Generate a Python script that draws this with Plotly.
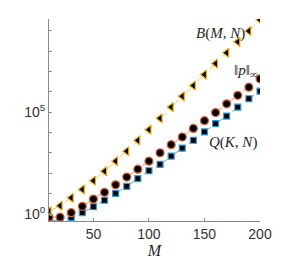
import plotly.graph_objects as go

M = [10, 20, 30, 40, 50, 60, 70, 80, 90, 100, 110, 120, 130, 140, 150, 160, 170, 180, 190, 200]
log_B = [0.13, 0.40, 0.79, 1.20, 1.63, 2.10, 2.59, 3.08, 3.61, 4.14, 4.70, 5.25, 5.78, 6.31, 6.85, 7.39, 7.92, 8.46, 8.99, 9.54]
log_P = [-0.16, -0.16, 0.06, 0.37, 0.73, 1.06, 1.43, 1.81, 2.20, 2.59, 3.00, 3.40, 3.78, 4.20, 4.58, 4.98, 5.41, 5.83, 6.23, 6.64]
log_Q = [-0.32, -0.32, -0.18, 0.06, 0.35, 0.67, 1.01, 1.35, 1.73, 2.12, 2.43, 2.84, 3.23, 3.62, 4.03, 4.44, 4.81, 5.25, 5.66, 6.03]

B = [10 ** v for v in log_B]
P = [10 ** v for v in log_P]
Q = [10 ** v for v in log_Q]

x_ticks = [50, 100, 150, 200]
y_major = [1, 1e5]
y_major_text = ["10<sup>0</sup>", "10<sup>5</sup>"]
y_minor = [10 ** k for k in range(1, 10) if k != 5]

fig = go.Figure()
fig.add_trace(go.Scatter(
    x=M, y=Q, mode="lines+markers",
    line=dict(color="rgba(0,114,189,0.65)", width=1, dash="dash"),
    marker=dict(symbol="square", size=6, color="black",
                line=dict(color="#3a9ad9", width=1.2)),
))
fig.add_trace(go.Scatter(
    x=M, y=P, mode="lines+markers",
    line=dict(color="rgba(217,83,25,0.6)", width=1, dash="dash"),
    marker=dict(symbol="circle", size=8, color="black",
                line=dict(color="#d9643a", width=1.2)),
))
fig.add_trace(go.Scatter(
    x=M, y=B, mode="lines+markers",
    line=dict(color="rgba(237,177,32,0.75)", width=1, dash="dash"),
    marker=dict(symbol="triangle-left", size=8, color="black",
                line=dict(color="#EDB120", width=1.2)),
))

ann_font = dict(family="Liberation Serif, DejaVu Serif, serif", size=15, color="#262626")
fig.add_annotation(x=164, y=8.85, xref="x", yref="y",
                   text="<i>B</i>(<i>M</i>, <i>N</i>)", showarrow=False, font=ann_font)
fig.add_annotation(x=175.0, y=7.02, xref="x", yref="y",
                   text="‖<i>p</i>‖<sub>∞</sub>", showarrow=False, font=ann_font, xanchor="left")
fig.add_annotation(x=152.5, y=3.50, xref="x", yref="y",
                   text="<i>Q</i>(<i>K</i>, <i>N</i>)", showarrow=False, font=ann_font, xanchor="left")

fig.update_layout(
    width=300, height=268,
    margin=dict(l=49, r=40, t=19, b=37),
    paper_bgcolor="white", plot_bgcolor="white",
    showlegend=False,
    xaxis=dict(
        range=[10, 200], tickvals=x_ticks, ticks="inside", ticklen=3,
        showline=True, linecolor="#8a8a8a", linewidth=1, tickcolor="#8a8a8a",
        showgrid=False, zeroline=False,
        tickfont=dict(family="Liberation Sans, Arial, sans-serif", size=14, color="#333333"),
        title=dict(text="<i>M</i>", font=dict(family="Liberation Serif, serif", size=16, color="#262626"),
                   standoff=3),
    ),
    yaxis=dict(
        type="log", range=[-0.35, 9.58], tickmode="array", tickvals=y_major, ticktext=y_major_text,
        ticks="inside", ticklen=3,
        showline=True, linecolor="#8a8a8a", linewidth=1, tickcolor="#8a8a8a",
        showgrid=False, zeroline=False,
        minor=dict(tickmode="array", tickvals=y_minor, ticks="inside", ticklen=3,
                   tickcolor="#8a8a8a", showgrid=False),
        tickfont=dict(family="Liberation Sans, Arial, sans-serif", size=14, color="#333333"),
    ),
)

fig.write_html("out.html", config={"displayModeBar": False},
               post_script="document.body.style.margin='0px';")
